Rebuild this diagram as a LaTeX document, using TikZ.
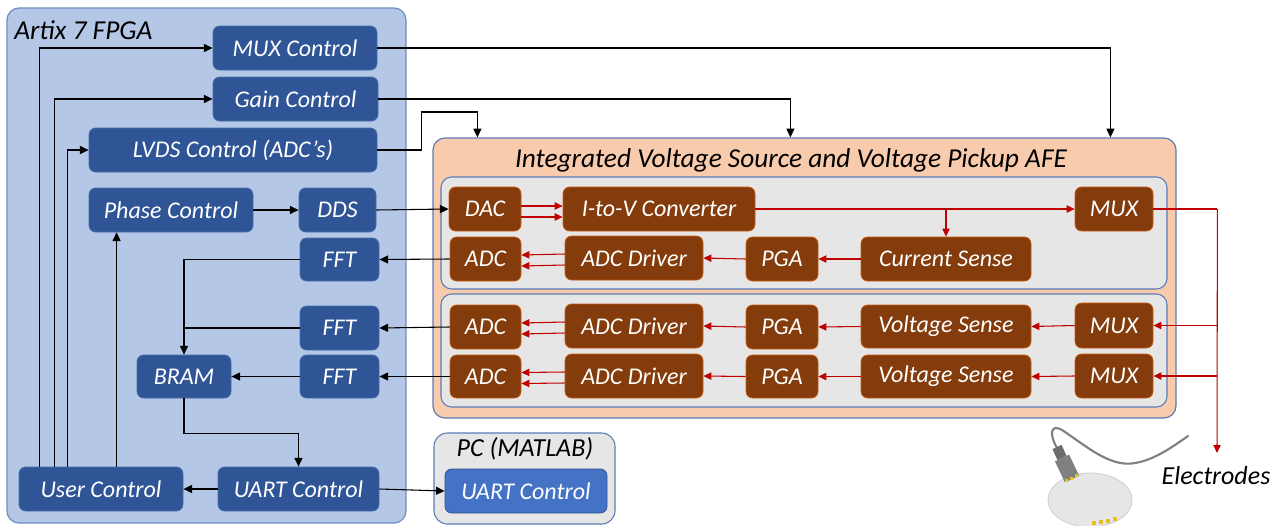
\documentclass[tikz,border=0pt]{standalone}
\usepackage{fontspec}
\setmainfont{Carlito}
\usetikzlibrary{arrows.meta,calc}

\definecolor{fpgaFill}{HTML}{B4C7E7}
\definecolor{fpgaEdge}{HTML}{6C8EBF}
\definecolor{blueBox}{HTML}{2F5597}
\definecolor{blueEdge}{HTML}{4A6EA9}
\definecolor{afeFill}{HTML}{F8CBAD}
\definecolor{panelEdge}{HTML}{5A7BB5}
\definecolor{panelFill}{HTML}{E7E6E6}
\definecolor{afeBrown}{HTML}{843C0C}
\definecolor{brownEdge}{HTML}{C55A11}
\definecolor{sigRed}{HTML}{C00000}
\definecolor{pcBlue}{HTML}{4472C4}
\definecolor{cableGray}{HTML}{808080}
\definecolor{padYellow}{HTML}{E8C020}

% box given by its pixel corners: style, name, x1, y1, x2, y2, text
\newcommand{\pbox}[7]{%
  \node[#1, minimum width={(#5-#3)*0.75pt}, minimum height={(#6-#4)*0.75pt}]
    (#2) at ({(#3+#5)/2},{(#4+#6)/2}) {#7};}

\tikzset{
  frame/.style={draw=fpgaEdge, line width=0.9pt, rounded corners=9pt, inner sep=0pt},
  panel/.style={draw=panelEdge, line width=0.8pt, fill=panelFill, rounded corners=8pt, inner sep=0pt},
  blk/.style={fill=blueBox, draw=blueEdge, line width=0.6pt, rounded corners=5pt,
    text=white, font=\itshape\fontsize{18}{20}\selectfont, inner sep=0pt},
  afeblk/.style={fill=afeBrown, draw=brownEdge, line width=0.6pt, rounded corners=5pt,
    text=white, font=\itshape\fontsize{18}{20}\selectfont, inner sep=0pt},
  heading/.style={font=\itshape\fontsize{19.5}{22}\selectfont, text=black, inner sep=0pt},
  arr/.style={-{Triangle[length=6.5pt,width=6pt]}, line width=0.8pt, black},
  wire/.style={line width=0.8pt, black},
  rarr/.style={-{Triangle[length=6pt,width=5.5pt]}, line width=0.8pt, sigRed},
  rwire/.style={line width=0.8pt, sigRed}
}

\begin{document}
\begin{tikzpicture}[x=0.75pt,y=-0.75pt]
\useasboundingbox (0,0) rectangle (1284,525);

% ---------- FPGA ----------
\pbox{frame, fill=fpgaFill}{fpga}{7}{8}{406}{523}{}
\node[heading, anchor=west, font=\itshape\fontsize{20.5}{22}\selectfont] (fpgatitle) at (14,30) {Artix 7 FPGA};

\pbox{blk}{muxc}{213}{26}{377}{70}{MUX Control}
\pbox{blk}{gain}{213}{77}{378}{121}{Gain Control}
\pbox{blk}{lvds}{89}{128}{377}{172}{LVDS Control (ADC’s)}
\pbox{blk}{phase}{89}{188}{253}{232}{Phase Control}
\pbox{blk}{dds}{299}{188}{376}{232}{DDS}
\pbox{blk}{fft1}{300}{238}{379}{281}{FFT}
\pbox{blk}{fft2}{300}{306}{379}{350}{FFT}
\pbox{blk}{fft3}{300}{355}{379}{398}{FFT}
\pbox{blk}{bram}{137}{355}{231}{398}{BRAM}
\pbox{blk}{user}{19}{467}{183}{511}{User Control}
\pbox{blk}{uart}{218}{467}{379}{511}{UART Control}

% ---------- AFE ----------
\pbox{frame, draw=panelEdge, fill=afeFill}{afe}{433}{138}{1176}{418}{}
\node[heading, font=\itshape\fontsize{20.5}{22}\selectfont] (afetitle) at (791,160) {Integrated Voltage Source and Voltage Pickup AFE};
\pbox{panel}{panA}{441}{177}{1167}{289}{}
\pbox{panel}{panB}{441}{294}{1167}{407}{}

\pbox{afeblk}{dac}{449}{187}{521}{231}{DAC}
\pbox{afeblk}{itov}{563}{187}{755}{231}{I-to-V Converter}
\pbox{afeblk}{mux1}{1075}{187}{1153}{231}{MUX}
\pbox{afeblk}{adc1}{450}{237}{521}{281}{ADC}
\pbox{afeblk}{drv1}{565}{236}{703}{280}{ADC Driver}
\pbox{afeblk}{pga1}{746}{237}{818}{281}{PGA}
\pbox{afeblk}{cs}{861}{237}{1031}{281}{Current Sense}

\pbox{afeblk}{adc2}{450}{305}{521}{349}{ADC}
\pbox{afeblk}{drv2}{565}{304}{703}{348}{ADC Driver}
\pbox{afeblk}{pga2}{746}{305}{818}{349}{PGA}
\pbox{afeblk}{vs2}{861}{305}{1031}{348}{Voltage Sense}
\pbox{afeblk}{mux2}{1075}{303}{1153}{348}{MUX}

\pbox{afeblk}{adc3}{450}{355}{521}{398}{ADC}
\pbox{afeblk}{drv3}{565}{354}{703}{398}{ADC Driver}
\pbox{afeblk}{pga3}{746}{355}{818}{398}{PGA}
\pbox{afeblk}{vs3}{861}{355}{1031}{398}{Voltage Sense}
\pbox{afeblk}{mux3}{1075}{354}{1153}{398}{MUX}

% ---------- PC ----------
\pbox{panel, rounded corners=10pt}{pc}{434}{433}{615}{524}{}
\node[heading] (pctitle) at (525,449) {PC (MATLAB)};
\pbox{blk, fill=pcBlue, draw=blueBox}{pcuart}{445}{469}{607}{513}{UART Control}

% ---------- FPGA internal wiring ----------
\draw[arr] ($(user.north west)+(21,0)$) |- (muxc.west);
\draw[arr] ($(user.north west)+(36,0)$) |- (gain.west);
\draw[arr] ($(user.north west)+(49,0)$) |- (lvds.west);
\draw[arr] ($(user.north west)+(98,0)$) coordinate (ut) -- (ut |- phase.south);
\draw[arr] (phase.east) -- (dds.west);
\draw[arr] (uart.west) -- (user.east);
\draw[arr] (bram.south) -- ++(0,35) -| (uart.north);
\draw[arr] (fft3.west) -- (bram.east);
\draw[arr] (fft1.west) -| (bram.north);
\draw[wire] (fft2.west) -- (fft2.west -| bram.north);

% ---------- FPGA <-> AFE / PC ----------
\draw[arr] (muxc.east) -| ($(afe.north west)+(678,0)$);
\draw[arr] (gain.east) -| ($(afe.north west)+(358,0)$);
\draw[arr] (lvds.east) -- ++(44,0) -- ++(0,-38) -| ($(afe.north west)+(45,0)$);
\draw[arr] (dds.east) -- (dac.west);
\draw[arr] (adc1.west) -- (fft1.east);
\draw[arr] (adc2.west) -- (fft2.east);
\draw[arr] (adc3.west) -- (fft3.east);
\draw[arr] (uart.east) -- (pcuart.west);

% ---------- analog signal chain ----------
\draw[rarr] ($(dac.east)+(0,-3)$) -- ($(itov.west)+(0,-3)$);
\draw[rarr] ($(dac.east)+(0,8)$) -- ($(itov.west)+(0,8)$);
\draw[rarr] (itov.east) -- (mux1.west);
\draw[rarr] (itov.east -| cs.north) -- (cs.north);
\draw[rarr] (cs.west) -- (pga1.east);
\draw[rarr] (pga1.west) -- (drv1.east);
\draw[rarr] ($(drv1.west)+(0,-4)$) -- ($(adc1.east)+(0,-4)$);
\draw[rarr] ($(drv1.west)+(0,7)$) -- ($(adc1.east)+(0,7)$);

\draw[rarr] (mux2.west) -- (vs2.east);
\draw[rarr] (vs2.west) -- (pga2.east);
\draw[rarr] (pga2.west) -- (drv2.east);
\draw[rarr] ($(drv2.west)+(0,-4)$) -- ($(adc2.east)+(0,-4)$);
\draw[rarr] ($(drv2.west)+(0,7)$) -- ($(adc2.east)+(0,7)$);

\draw[rarr] (mux3.west) -- (vs3.east);
\draw[rarr] (vs3.west) -- (pga3.east);
\draw[rarr] (pga3.west) -- (drv3.east);
\draw[rarr] ($(drv3.west)+(0,-4)$) -- ($(adc3.east)+(0,-4)$);
\draw[rarr] ($(drv3.west)+(0,7)$) -- ($(adc3.east)+(0,7)$);

% electrode bus
\coordinate (bus) at ($(mux1.east)+(64,0)$);
\coordinate (etip) at (1217,453);
\draw[rwire] (mux1.east) -- (bus);
\draw[rarr] (bus) -- (etip);
\draw[rarr] (bus |- mux2.east) -- (mux2.east);
\draw[rarr] (bus |- mux3.east) -- (mux3.east);

\node[heading] (elabel) at (1216,476) {Electrodes};

% ---------- electrode sketch ----------
\draw[fill=panelFill, draw=black!18, line width=0.7pt] (1090,500) ellipse (42 and 27);
\foreach \px/\py in {1094/523,1101/522,1108/521,1115/519}
  \fill[padYellow] (\px-1.8,\py-1.6) rectangle (\px+1.8,\py+1.6);
\draw[cableGray, line width=1.6pt, line cap=round]
  (1057,448) .. controls (1048,432) and (1052,424) .. (1062,430)
  .. controls (1085,445) and (1110,468) .. (1135,463)
  .. controls (1155,460) and (1175,445) .. (1188,436);
\fill[cableGray!85!black] (1052.5,449.2) -- (1061.5,444.8) -- (1066.5,455.8) -- (1057.5,460.2) -- cycle;
\fill[cableGray] (1054.9,461.4) -- (1069.1,454.6) -- (1079.1,475.6) -- (1064.9,482.4) -- cycle;
\foreach \px/\py in {1066/480,1071/478,1076/475.5}
  \fill[padYellow] (\px-1.5,\py-1.5) rectangle (\px+1.5,\py+1.5);
\end{tikzpicture}
\end{document}
